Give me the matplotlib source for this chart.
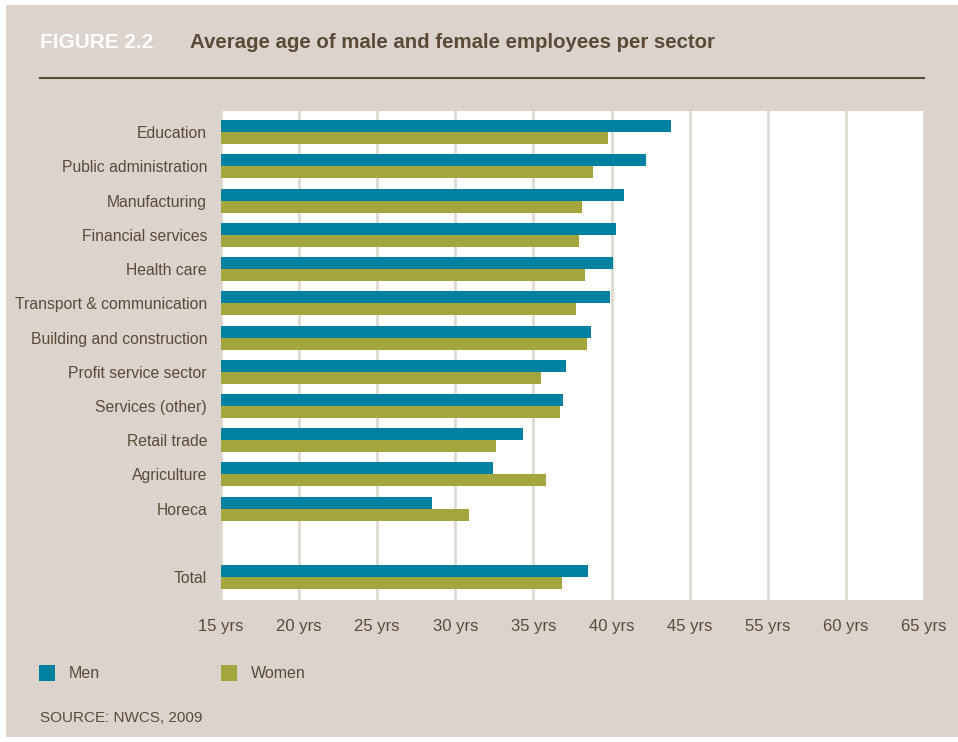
import numpy as np
import matplotlib.pyplot as plt
from matplotlib.patches import Rectangle

# Data
sectors = ["Education", "Public administration", "Manufacturing", "Financial services",
           "Health care", "Transport & communication", "Building and construction",
           "Profit service sector", "Services (other)", "Retail trade", "Agriculture",
           "Horeca", "Total"]
men = [43.8, 42.2, 40.8, 40.3, 40.1, 39.9, 38.7, 37.1, 36.9, 34.3, 32.4, 28.5, 38.5]
women = [39.8, 38.8, 38.1, 37.9, 38.3, 37.7, 38.4, 35.5, 36.7, 32.6, 35.8, 30.9, 36.8]
tick_vals = [15, 20, 25, 30, 35, 40, 45, 50, 55, 60]
tick_labels = ["15 yrs", "20 yrs", "25 yrs", "30 yrs", "35 yrs", "40 yrs",
               "45 yrs", "55 yrs", "60 yrs", "65 yrs"]

bg = "#dbd3cc"
brown = "#5b4a38"
c_men = "#0081a0"
c_women = "#a3a63c"
grid_c = "#e0d9d3"

plt.rcParams['font.family'] = ['Liberation Sans', 'DejaVu Sans']

fig = plt.figure(figsize=(9.58, 7.42), dpi=100, facecolor="white")
W, H = 958, 742
fig.patches.append(Rectangle((6 / W, 5 / H), 1 - 6 / W, 1 - 10 / H,
                             transform=fig.transFigure, facecolor=bg,
                             edgecolor="none", zorder=-10))

ax = fig.add_axes([221 / W, 1 - 600 / H, (924 - 221) / W, (600 - 111) / H])
ax.set_facecolor("white")

# positions: leave an empty row before Total
pos = np.array(list(range(12)) + [13])
h = 0.35
ax.barh(pos - h / 2, np.array(men) - 15, left=15, height=h, color=c_men, zorder=3)
ax.barh(pos + h / 2, np.array(women) - 15, left=15, height=h, color=c_women, zorder=3)

ax.set_xlim(15, 60)
ax.set_ylim(13.67, -0.62)
ax.set_xticks(tick_vals)
ax.set_xticklabels(tick_labels, color=brown, fontsize=12)
ax.set_yticks(pos)
ax.set_yticklabels(sectors, color=brown, fontsize=11.3)
ax.tick_params(axis="x", length=0, pad=14)
ax.tick_params(axis="y", length=0, pad=10)
for x in tick_vals:
    ax.axvline(x, color=grid_c, lw=2, zorder=1)
for s in ax.spines.values():
    s.set_visible(False)

# header
fig.text(40 / W, 1 - 42 / H, "FIGURE 2.2", color="white", fontsize=15,
         fontweight="bold", va="center")
fig.text(190 / W, 1 - 42 / H, "Average age of male and female employees per sector",
         color=brown, fontsize=14.7, fontweight="bold", va="center")
fig.add_artist(plt.Line2D([40 / W, 924 / W], [1 - 78 / H, 1 - 78 / H],
                          color=brown, lw=1.5))

# legend
fig.patches.append(Rectangle((39 / W, 1 - 681 / H), 16 / W, 16 / H,
                             transform=fig.transFigure, facecolor=c_men))
fig.text(69 / W, 1 - 674 / H, "Men", color=brown, fontsize=11.5, va="center")
fig.patches.append(Rectangle((221 / W, 1 - 681 / H), 16 / W, 16 / H,
                             transform=fig.transFigure, facecolor=c_women))
fig.text(251 / W, 1 - 674 / H, "Women", color=brown, fontsize=11.5, va="center")

fig.text(40 / W, 1 - 718 / H, "SOURCE: NWCS, 2009", color=brown, fontsize=11,
         va="center")

fig.savefig("out.png", dpi=100, facecolor=fig.get_facecolor())
